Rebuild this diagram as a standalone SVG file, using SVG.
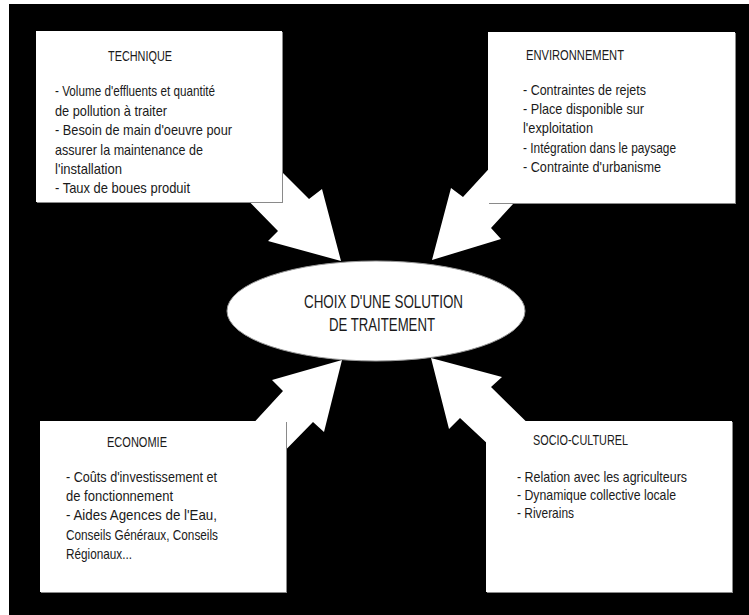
<svg xmlns="http://www.w3.org/2000/svg" width="749" height="615" viewBox="0 0 749 615">
<style>
.bg{fill:#000}
.box{fill:#fff}
.shadow{fill:#8a8a8a}
.arrow{fill:#fff}
.ell{fill:#fff;stroke:#9a9a9a;stroke-width:1}
text{font-family:"Liberation Sans",Arial,sans-serif;font-size:15px;fill:#1a1a1a}
.big{font-size:18px}
</style>
<rect x="0" y="0" width="749" height="615" fill="#fff"/>
<rect class="bg" x="9" y="4" width="740" height="611"/>
<g id="connectors">
<polygon class="arrow" points="262,152 309,199 322,189 341,261 268,241 278,231 230,182"/>
<polygon class="arrow" points="508,148 463,197 451,188 432,260 501,239 491,228 534,181"/>
<polygon class="arrow" points="235,443 283,391 272,380 342,360 324,432 313,422 266,470"/>
<polygon class="arrow" points="546,441 491,387 502,377 431,358 449,429 460,418 506,461"/>
</g>
<g id="technique">
<rect class="shadow" x="37" y="32" width="246" height="171"/>
<rect class="box" x="36" y="31" width="246" height="171"/>
<text x="108" y="61" textLength="64" lengthAdjust="spacingAndGlyphs">TECHNIQUE</text>
<text x="55" y="96" textLength="160" lengthAdjust="spacingAndGlyphs">- Volume d'effluents et quantité</text>
<text x="55" y="116" textLength="112" lengthAdjust="spacingAndGlyphs">de pollution à traiter</text>
<text x="55" y="135" textLength="177" lengthAdjust="spacingAndGlyphs">- Besoin de main d'oeuvre pour</text>
<text x="55" y="155" textLength="148" lengthAdjust="spacingAndGlyphs">assurer la maintenance de</text>
<text x="55" y="174" textLength="67" lengthAdjust="spacingAndGlyphs">l'installation</text>
<text x="55" y="193" textLength="135" lengthAdjust="spacingAndGlyphs">- Taux de boues produit</text>
</g>
<g id="environnement">
<rect class="shadow" x="489" y="33" width="247" height="171"/>
<rect class="box" x="488" y="32" width="247" height="171"/>
<text x="526" y="60" textLength="98" lengthAdjust="spacingAndGlyphs">ENVIRONNEMENT</text>
<text x="523" y="95" textLength="123" lengthAdjust="spacingAndGlyphs">- Contraintes de rejets</text>
<text x="523" y="114" textLength="121" lengthAdjust="spacingAndGlyphs">- Place disponible sur</text>
<text x="523" y="133" textLength="70" lengthAdjust="spacingAndGlyphs">l'exploitation</text>
<text x="523" y="153" textLength="153" lengthAdjust="spacingAndGlyphs">- Intégration dans le paysage</text>
<text x="523" y="172" textLength="138" lengthAdjust="spacingAndGlyphs">- Contrainte d'urbanisme</text>
</g>
<g id="economie">
<rect class="shadow" x="41" y="422" width="246" height="171"/>
<rect class="box" x="40" y="421" width="246" height="171"/>
<text x="107" y="447" textLength="60" lengthAdjust="spacingAndGlyphs">ECONOMIE</text>
<text x="66" y="482" textLength="151" lengthAdjust="spacingAndGlyphs">- Coûts d'investissement et</text>
<text x="66" y="501" textLength="107" lengthAdjust="spacingAndGlyphs">de fonctionnement</text>
<text x="66" y="520" textLength="151" lengthAdjust="spacingAndGlyphs">- Aides Agences de l'Eau,</text>
<text x="66" y="540" textLength="152" lengthAdjust="spacingAndGlyphs">Conseils Généraux, Conseils</text>
<text x="66" y="559" textLength="66" lengthAdjust="spacingAndGlyphs">Régionaux...</text>
</g>
<g id="socioculturel">
<rect class="shadow" x="487" y="422" width="246" height="171"/>
<rect class="box" x="486" y="421" width="246" height="171"/>
<text x="533" y="445" textLength="95" lengthAdjust="spacingAndGlyphs">SOCIO-CULTUREL</text>
<text x="517" y="482" textLength="170" lengthAdjust="spacingAndGlyphs">- Relation avec les agriculteurs</text>
<text x="517" y="500" textLength="159" lengthAdjust="spacingAndGlyphs">- Dynamique collective locale</text>
<text x="517" y="518" textLength="57" lengthAdjust="spacingAndGlyphs">- Riverains</text>
</g>
<g id="choix">
<ellipse class="ell" cx="376" cy="311" rx="149" ry="50"/>
<text class="big" x="304" y="308" textLength="159" lengthAdjust="spacingAndGlyphs">CHOIX D'UNE SOLUTION</text>
<text class="big" x="329" y="331" textLength="106" lengthAdjust="spacingAndGlyphs">DE TRAITEMENT</text>
</g>
</svg>
